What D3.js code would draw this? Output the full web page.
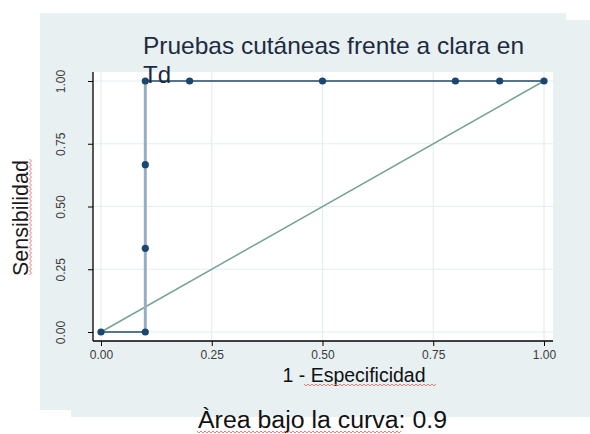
<!DOCTYPE html>
<html><head><meta charset="utf-8">
<script src="https://cdn.jsdelivr.net/npm/d3@7"></script>
<style>body{margin:0;background:#fff}svg{display:block}</style>
</head><body>
<svg id="c" width="590" height="434"></svg>
<script>
const fpr = [0, 0.1, 0.1, 0.1, 0.1, 0.2, 0.5, 0.8, 0.9, 1.0];
const tpr = [0, 0, 0.3333, 0.6667, 1.0, 1.0, 1.0, 1.0, 1.0, 1.0];
const refLine = [[0, 0], [1, 1]];
const xTicks = [0, 0.25, 0.5, 0.75, 1];
const yTicks = [0, 0.25, 0.5, 0.75, 1];
const titleLines = ["Pruebas cutáneas frente a clara en", "Td"];
const xTitle = "1 - Especificidad";
const yTitle = "Sensibilidad";
const note = "Àrea bajo la curva: 0.9";

const svg = d3.select("#c");
const bg = "#e8f0f2";
svg.append("rect").attr("x", 40).attr("y", 13).attr("width", 526).attr("height", 397).attr("fill", bg);
svg.append("rect").attr("x", 71).attr("y", 20).attr("width", 519).attr("height", 397).attr("fill", bg);

const x = d3.scaleLinear().domain([0, 1]).range([101, 544]);
const y = d3.scaleLinear().domain([0, 1]).range([332, 81]);
const plot = {l: 93, r: 553, t: 72, b: 341};

svg.append("rect").attr("x", plot.l).attr("y", plot.t).attr("width", plot.r - plot.l).attr("height", plot.b - plot.t).attr("fill", "#fff");

const grid = svg.append("g").attr("stroke", "#e4eef1").attr("stroke-width", 1.2);
grid.selectAll(".gx").data(xTicks).join("line").attr("x1", d => x(d)).attr("x2", d => x(d)).attr("y1", plot.t).attr("y2", plot.b);
grid.selectAll(".gy").data(yTicks).join("line").attr("y1", d => y(d)).attr("y2", d => y(d)).attr("x1", plot.l).attr("x2", plot.r);

const ff = "Liberation Sans, Arial, sans-serif";

// axes
const xAxis = d3.axisBottom(x).tickValues(xTicks).tickFormat(d3.format(".2f")).tickSize(5).tickSizeOuter(0);
const gx = svg.append("g").attr("transform", `translate(0,${plot.b})`).call(xAxis);
gx.select(".domain").attr("d", `M${plot.l},0H${plot.r}`).attr("stroke", "#000").attr("stroke-width", 1.3);
gx.selectAll(".tick line").attr("stroke", "#000");
gx.selectAll(".tick text").attr("font-family", ff).attr("font-size", 12).attr("fill", "#3a3a3a").attr("y", 9).attr("dy", "0.71em");

const yAxis = d3.axisLeft(y).tickValues(yTicks).tickFormat(d3.format(".2f")).tickSize(5).tickSizeOuter(0);
const gy = svg.append("g").attr("transform", `translate(${plot.l},0)`).call(yAxis);
gy.select(".domain").attr("d", `M0,${plot.t}V${plot.b}`).attr("stroke", "#000").attr("stroke-width", 1.3);
gy.selectAll(".tick line").attr("stroke", "#000");
gy.selectAll(".tick text").attr("font-family", ff).attr("font-size", 12).attr("fill", "#3a3a3a")
  .attr("x", null).attr("dy", null).attr("text-anchor", "middle").attr("transform", "translate(-32,0) rotate(-90) translate(0,4)");

// reference diagonal
svg.append("path").datum(refLine).attr("fill", "none").attr("stroke", "#74a394").attr("stroke-width", 1.5)
  .attr("d", d3.line().x(d => x(d[0])).y(d => y(d[1])));

// ROC curve segments
const pts = fpr.map((v, i) => [v, tpr[i]]);
const segs = d3.pairs(pts);
svg.append("g").selectAll("line").data(segs).join("line")
  .attr("x1", d => x(d[0][0])).attr("y1", d => y(d[0][1])).attr("x2", d => x(d[1][0])).attr("y2", d => y(d[1][1]))
  .attr("stroke", d => d[0][0] === d[1][0] ? "#97adc2" : "#1f4a70")
  .attr("stroke-width", d => d[0][0] === d[1][0] ? 3 : 1.7);
svg.append("g").selectAll("circle").data(pts).join("circle")
  .attr("cx", d => x(d[0])).attr("cy", d => y(d[1])).attr("r", 3.6).attr("fill", "#1a476f");

// titles
svg.append("text").attr("x", 143).attr("y", 54).attr("font-family", ff).attr("font-size", 24).attr("fill", "#1c2b40")
  .attr("textLength", 381).attr("lengthAdjust", "spacingAndGlyphs").text(titleLines[0]);
svg.append("text").attr("x", 143).attr("y", 83).attr("font-family", ff).attr("font-size", 24).attr("fill", "#1c2b40").text(titleLines[1]);

svg.append("text").attr("transform", "translate(28,218) rotate(-90)").attr("text-anchor", "middle")
  .attr("font-family", ff).attr("font-size", 21.5).attr("fill", "#1a1a1a").text(yTitle);
svg.append("text").attr("x", 354).attr("y", 382).attr("text-anchor", "middle")
  .attr("font-family", ff).attr("font-size", 19.5).attr("fill", "#111").text(xTitle);
svg.append("text").attr("x", 198).attr("y", 428)
  .attr("font-family", ff).attr("font-size", 23.5).attr("fill", "#111").attr("textLength", 249).attr("lengthAdjust", "spacingAndGlyphs").text(note);

// spell-check squiggles
function squiggle(x0, x1, yy, vertical) {
  const p = d3.path();
  let s = 0;
  for (let t = x0; t <= x1; t += 2) {
    const off = (s++ % 2) ? 1 : -1;
    if (vertical) { if (t === x0) p.moveTo(yy + off, t); else p.lineTo(yy + off, t); }
    else { if (t === x0) p.moveTo(t, yy + off); else p.lineTo(t, yy + off); }
  }
  svg.append("path").attr("d", p.toString()).attr("fill", "none").attr("stroke", "#f06b6b").attr("stroke-width", 0.9);
}
squiggle(159, 275, 30.5, true);
squiggle(304, 436, 385, false);
squiggle(197, 402, 432, false);
</script>
</body></html>
